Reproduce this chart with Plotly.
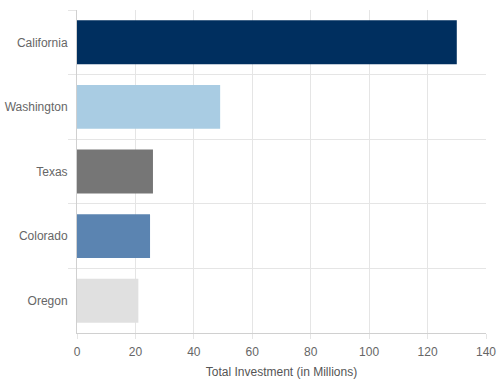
import plotly.graph_objects as go

states = ["California", "Washington", "Texas", "Colorado", "Oregon"]
investment = [130, 49, 26, 25, 21]
bar_colors = ["#002F5F", "#A9CCE3", "#767676", "#5B84B1", "#E0E0E0"]
x_ticks = [0, 20, 40, 60, 80, 100, 120, 140]

fig = go.Figure(
    go.Bar(
        x=investment,
        y=states,
        orientation="h",
        width=0.68,
        marker=dict(color=bar_colors, line=dict(width=0)),
    )
)

font_family = "Liberation Sans, Arial, Helvetica, sans-serif"

fig.update_layout(
    width=500,
    height=384,
    margin=dict(l=77, r=14, t=10, b=51),
    paper_bgcolor="white",
    plot_bgcolor="white",
    showlegend=False,
    font=dict(family=font_family, size=12, color="#666666"),
)

fig.update_xaxes(
    range=[0, 140],
    tickvals=x_ticks,
    automargin=False,
    showgrid=True,
    gridcolor="#e5e5e5",
    gridwidth=1,
    zeroline=False,
    showline=True,
    linecolor="#d0d0d0",
    linewidth=1,
    ticks="outside",
    ticklen=5,
    tickcolor="#e5e5e5",
    tickfont=dict(size=12, color="#666666"),
    ticklabelstandoff=3,
    title=dict(text="Total Investment (in Millions)", font=dict(size=12, color="#555555"), standoff=9),
)

fig.update_yaxes(
    categoryorder="array",
    categoryarray=states,
    range=[4.5, -0.5],
    automargin=False,
    showgrid=True,
    gridcolor="#e5e5e5",
    gridwidth=1,
    tickson="boundaries",
    ticks="outside",
    ticklen=8,
    tickcolor="#e5e5e5",
    showline=True,
    linecolor="#d0d0d0",
    linewidth=1,
    zeroline=False,
    tickfont=dict(size=12, color="#666666"),
    ticklabelstandoff=6,
)

fig.write_html(
    "out.html",
    config={"displayModeBar": False},
    post_script="document.body.style.margin='0';document.body.style.overflow='hidden';",
)
